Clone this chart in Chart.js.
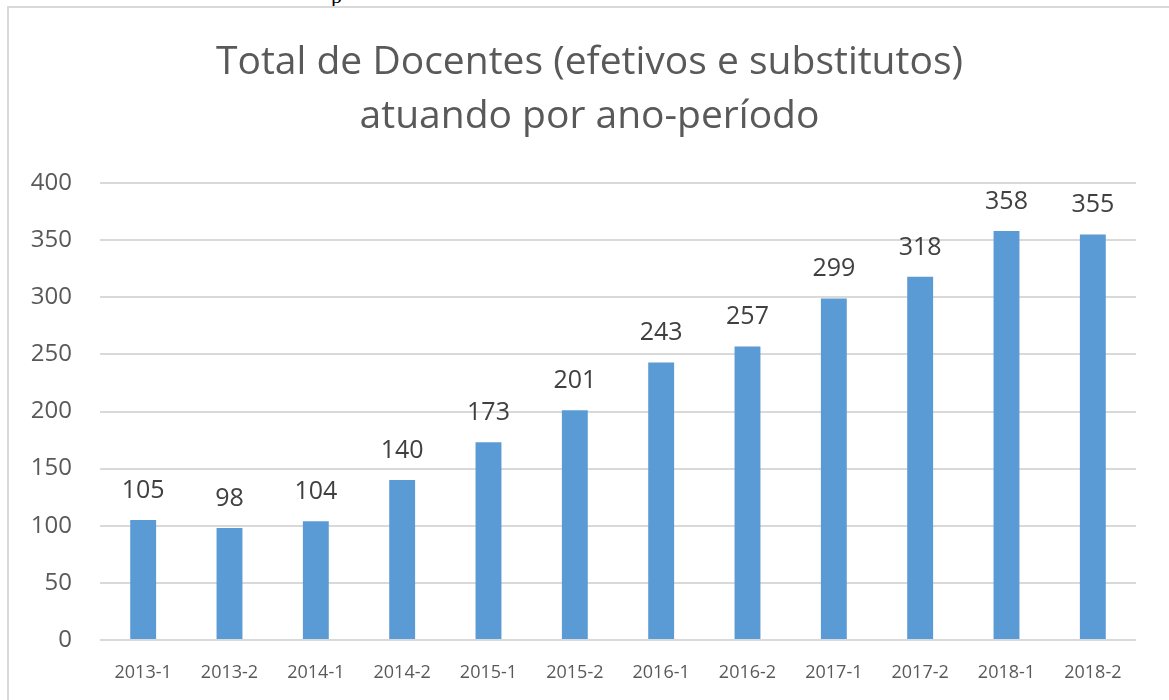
<!DOCTYPE html>
<html>
<head>
<meta charset="utf-8">
<script src="https://cdn.jsdelivr.net/npm/chart.js@4/dist/chart.umd.min.js"></script>
<style>
  html, body { margin: 0; padding: 0; background: #fff; overflow: hidden; }
  #frame { position: absolute; left: 7px; top: 6px; width: 1200px; height: 800px; border: 2px solid #d9d9d9; }
  #above { position: absolute; left: 331px; top: -17px; font: 22px "Liberation Serif", serif; color: #000; }
  #wrap { position: absolute; left: 0; top: 0; width: 1169px; height: 700px; }
</style>
</head>
<body>
<div id="above">p</div>
<div id="frame"></div>
<div id="wrap"><canvas id="bar-chart" width="1169" height="700"></canvas></div>
<script>
var periodos = ["2013-1","2013-2","2014-1","2014-2","2015-1","2015-2","2016-1","2016-2","2017-1","2017-2","2018-1","2018-2"];
var docentes = [105, 98, 104, 140, 173, 201, 243, 257, 299, 318, 358, 355];
var yTicks = [0, 50, 100, 150, 200, 250, 300, 350, 400];

// valores em cima das barras
var rotulos = {
  id: 'rotulos',
  afterDatasetsDraw: function(chart) {
    var ctx = chart.ctx;
    var meta = chart.getDatasetMeta(0);
    ctx.save();
    ctx.font = '25px "Open Sans"';
    ctx.fillStyle = '#404040';
    ctx.textAlign = 'center';
    ctx.textBaseline = 'alphabetic';
    meta.data.forEach(function(bar, i) {
      ctx.fillText(docentes[i], bar.x, bar.y - 22);
    });
    ctx.restore();
  }
};

new Chart(document.getElementById("bar-chart"), {
  type: 'bar',
  data: {
    labels: periodos,
    datasets: [{
      data: docentes,
      backgroundColor: '#5b9bd5',
      borderWidth: 0,
      categoryPercentage: 1,
      barPercentage: 0.3
    }]
  },
  options: {
    responsive: false,
    animation: false,
    layout: { padding: { left: 10, right: 0, top: 0, bottom: 0 } },
    plugins: {
      legend: { display: false },
      tooltip: { enabled: false },
      title: {
        display: true,
        text: ['Total de Docentes (efetivos e substitutos)', 'atuando por ano-período'],
        color: '#595959',
        font: { family: 'Open Sans', size: 39, weight: 'normal', lineHeight: 1.385 },
        padding: { top: 36, bottom: 39 }
      }
    },
    scales: {
      x: {
        grid: { display: false },
        border: { display: false },
        ticks: { color: '#595959', font: { family: 'Open Sans', size: 18 }, padding: 14 },
        afterFit: function(s) { s.height = 60; }
      },
      y: {
        min: 0,
        max: 400,
        afterBuildTicks: function(s) { s.ticks = yTicks.map(function(v) { return { value: v }; }); },
        grid: { color: '#d9d9d9', lineWidth: 2, drawTicks: false },
        border: { display: false },
        ticks: { color: '#595959', font: { family: 'Open Sans', size: 24 }, padding: 28 },
        afterFit: function(s) { s.width = 90; }
      },
      // margem vazia à direita
      margem: {
        type: 'linear',
        position: 'right',
        grid: { display: false },
        border: { display: false },
        ticks: { display: false },
        afterFit: function(s) { s.width = 33; }
      }
    }
  },
  plugins: [rotulos]
});
</script>
</body>
</html>
